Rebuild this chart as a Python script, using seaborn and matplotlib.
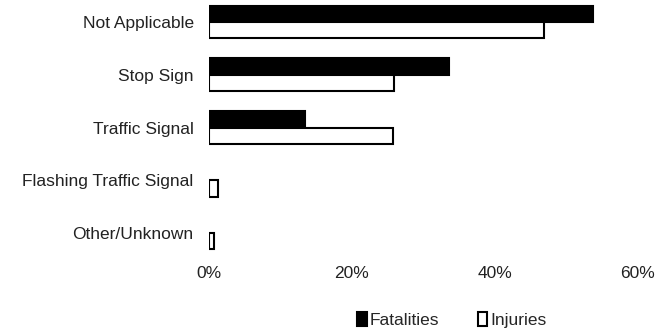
import pandas as pd
import seaborn as sns
import matplotlib.pyplot as plt
from matplotlib.patches import Patch
from matplotlib.ticker import PercentFormatter

categories = ["Not Applicable", "Stop Sign", "Traffic Signal",
              "Flashing Traffic Signal", "Other/Unknown"]
fatalities = [53.7, 33.6, 13.4, 0.0, 0.0]
injuries = [46.9, 25.9, 25.7, 1.2, 0.7]

df = pd.DataFrame({
    "Control": categories * 2,
    "Share": fatalities + injuries,
    "Type": ["Fatalities"] * len(categories) + ["Injuries"] * len(categories),
})
colors = {"Fatalities": "black", "Injuries": "white"}

sns.set_style("white")
plt.rcParams['font.family'] = ['Liberation Sans', 'DejaVu Sans']

fig, ax = plt.subplots(figsize=(6.57, 3.33), dpi=100)
sns.barplot(data=df, y="Control", x="Share", hue="Type", orient="h",
            palette=colors, edgecolor="black", linewidth=1.5, width=0.62,
            legend=False, ax=ax)

# zero values shouldn't leave an outline at the axis
for p in ax.patches:
    if p.get_width() == 0:
        p.set_visible(False)

ax.set_xlim(0, 60)
ax.set_ylim(4.5, -0.417)
ax.set_xticks([0, 20, 40, 60])
ax.xaxis.set_major_formatter(PercentFormatter(decimals=0))
ax.set_xlabel("")
ax.set_ylabel("")
ax.tick_params(axis="both", length=0, labelsize=12.5, colors="#222222")
ax.tick_params(axis="x", pad=5)
ax.tick_params(axis="y", pad=11)
for s in ax.spines.values():
    s.set_visible(False)

handles = [Patch(facecolor=colors[k], edgecolor="black", linewidth=1.5, label=k)
           for k in colors]
fig.legend(handles=handles, loc="center", bbox_to_anchor=(0.688, 0.039), ncol=2,
           frameon=False, fontsize=12.5, handlelength=0.55, handleheight=0.85,
           handletextpad=0.2, columnspacing=2.2)

fig.subplots_adjust(left=0.318, right=0.971, top=1.0, bottom=0.221)
fig.savefig("out.png", dpi=100)
